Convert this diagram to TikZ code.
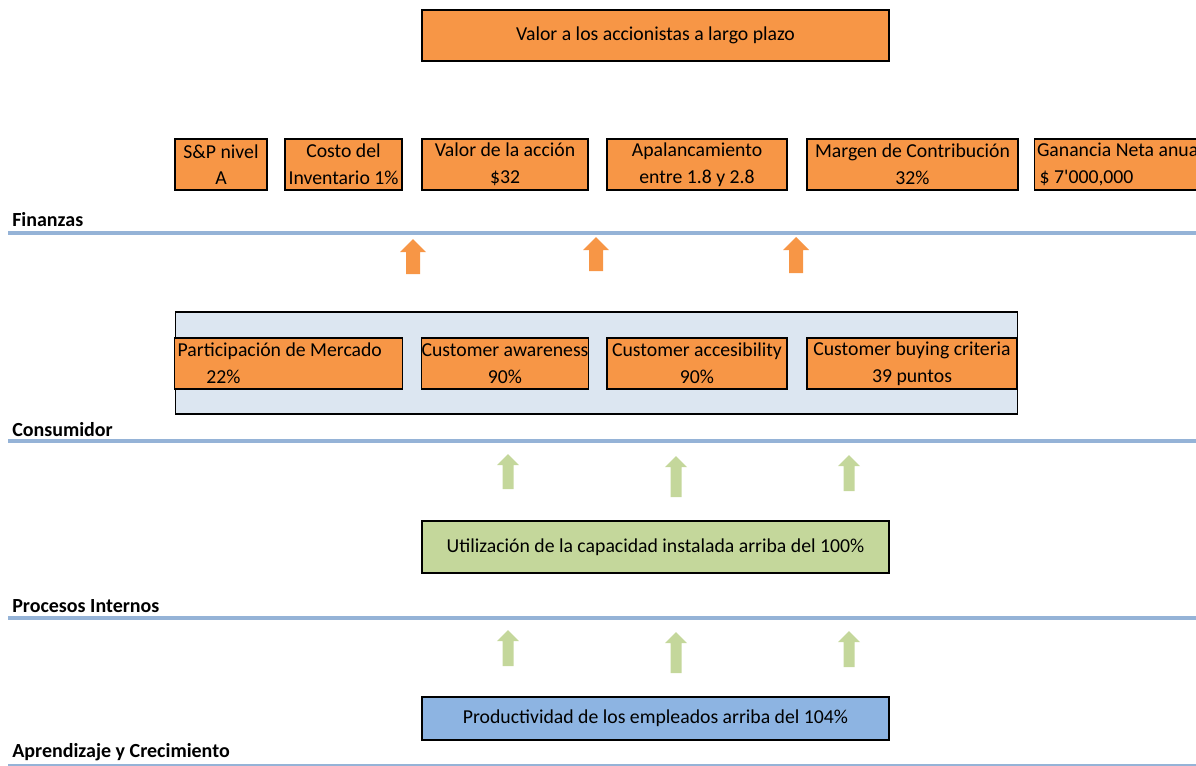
\documentclass[tikz,border=0pt]{standalone}
\usepackage{fontspec}
\setmainfont{Carlito}[Ligatures=TeXOff]
\definecolor{bscorange}{HTML}{F79646}
\definecolor{bscgreen}{HTML}{C4D79B}
\definecolor{bscblue}{HTML}{8DB4E2}
\definecolor{bscpale}{HTML}{DCE6F1}
\definecolor{bscline}{HTML}{95B3D7}
\begin{document}
\begin{tikzpicture}[x=0.75pt, y=-0.75pt, font=\fontsize{14.8}{20}\selectfont,
    box/.style={draw=black, line width=1.1pt, fill=bscorange, inner sep=0pt, align=center, minimum height=38.25pt},
    leftbox/.style={box, align=left, execute at begin node=\spaceskip0pt\xspaceskip0pt\relax},
    perspective/.style={font=\fontsize{15}{16}\selectfont\bfseries, anchor=west, inner sep=0pt},
    sepline/.style={draw=bscline, line width=3pt}]
    \useasboundingbox (0,0) rectangle (1196,765);
    \clip (0,0) rectangle (1196,765);
    % top goal
    \node[box, minimum width=350.25pt] (goal) at (655.5,35.5) {Valor a los accionistas a largo plazo};
    % finanzas
    \node[box, minimum width=69pt] (sp) at (221,164.5) {S\&P nivel\\A};
    \node[box, minimum width=87.75pt] (costo) at (343.5,164.5) {Costo del\\Inventario 1\%};
    \node[box, minimum width=124.5pt] (accion) at (505,164.5) {Valor de la acción\\\$32};
    \node[box, minimum width=135pt] (apal) at (697,164.5) {Apalancamiento\\entre 1.8 y 2.8};
    \node[box, minimum width=158.25pt] (margen) at (912.5,164.5) {Margen de Contribución\\32\%};
    \node[leftbox, text width=129pt, inner xsep=2pt] (ganancia) at (1123,164.5) {Ganancia Neta anua\\\hspace*{2pt}\$ 7'000,000};
    \node[perspective] (finanzas) at (12,220) {Finanzas};
    \draw[sepline] (8,233) -- (1196,233);
    % consumidor
    \node[draw=black, line width=1.1pt, fill=bscpale, minimum width=631.5pt, minimum height=76.5pt] (cliente) at (596.5,363) {};
    \node[leftbox, text width=166.25pt, inner xsep=2.5pt] (mercado) at (288.5,363.5) {Participación de Mercado\\\hspace*{1.45em}22\%};
    \node[box, minimum width=124.5pt] (aware) at (505,363.5) {Customer awareness\\90\%};
    \node[box, minimum width=135pt] (acces) at (697,363.5) {Customer accesibility\\90\%};
    \node[box, minimum width=157.5pt] (buying) at (912,363.5) {Customer buying criteria\\39 puntos};
    \node[perspective] (consumidor) at (12,430) {Consumidor};
    \draw[sepline] (8,441) -- (1196,441);
    % procesos internos
    \node[box, fill=bscgreen, minimum width=350.25pt, minimum height=39pt] (capacidad) at (655.5,547) {Utilización de la capacidad instalada arriba del 100\%};
    \node[perspective] (procesos) at (12,606) {Procesos Internos};
    \draw[sepline] (8,618) -- (1196,618);
    % aprendizaje
    \node[box, fill=bscblue, minimum width=350.25pt, minimum height=32.25pt] (productividad) at (655.5,718.5) {Productividad de los empleados arriba del 104\%};
    \node[perspective] (aprendizaje) at (12,752) {Aprendizaje y Crecimiento};
    \draw[sepline] (8,765.5) -- (1196,765.5);
    % block arrows
    \foreach \cx/\ty/\by in {413/239/274, 596/237/271, 796/237/273}
        \fill[bscorange] (\cx-7,\by) -- (\cx-7,\ty+13) -- (\cx-13,\ty+13) -- (\cx,\ty) -- (\cx+13,\ty+13) -- (\cx+7,\ty+13) -- (\cx+7,\by) -- cycle;
    \foreach \cx/\ty/\by in {508/454/489, 676/456/497, 849/455/491, 508/630/666, 676/632/673, 849/631/667}
        \fill[bscgreen] (\cx-5.5,\by) -- (\cx-5.5,\ty+11) -- (\cx-11,\ty+11) -- (\cx,\ty) -- (\cx+11,\ty+11) -- (\cx+5.5,\ty+11) -- (\cx+5.5,\by) -- cycle;
\end{tikzpicture}
\end{document}
